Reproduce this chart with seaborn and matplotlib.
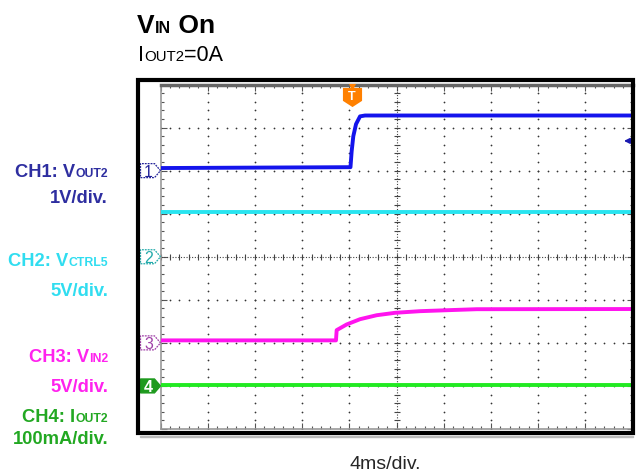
import numpy as np
import pandas as pd
import seaborn as sns
import matplotlib.pyplot as plt
from matplotlib.patches import Polygon, Rectangle
from matplotlib.ticker import MultipleLocator

# scope traces, time in ms, values in channel units (V, V, V, mA)
ch1_t = [-20, -3.90, -3.80, -3.66, -3.43, -3.09, -2.67, 20]
ch1_v = [0.06, 0.08, 0.45, 0.80, 1.08, 1.26, 1.28, 1.28]
ch2_t = [-20, 20]
ch2_v = [5.17, 5.17]
ch3_t = [-20, -5.13, -5.07, -4.22, -3.09, -1.68, -0.13, 1.99, 4.25, 6.80, 20]
ch3_v = [0.29, 0.29, 1.48, 2.14, 2.75, 3.21, 3.49, 3.68, 3.79, 3.91, 3.93]
ch4_t = [-20, 20]
ch4_v = [2, 2]

channels = ['CH1', 'CH2', 'CH3', 'CH4']
volts_per_div = [1, 5, 5, 100]
offset_div = [2, 0, -2, -3]
ms_per_div = 4
trig_t = -3.77
trig_level = 0.69  # CH1 trigger level (V)

trace_colors = ['#1414EC', '#28E4F0', '#FF14EE', '#22EA22']
label_colors = ['#2E2EA0', '#30DDF0', '#FF22EE', '#22A822']
marker_colors = ['#23239A', '#22AAAA', '#A040A8', '#1E9A1E']

sns.set_style('white')
plt.rcParams['font.family'] = ['Liberation Sans', 'DejaVu Sans']

W, H = 636, 477
fig = plt.figure(figsize=(W / 100, H / 100), dpi=100)

# grid area in pixels
gl, gr, gt, gb = 160.5, 632.5, 85.5, 430.0
ax = fig.add_axes([gl / W, 1 - gb / H, (gr - gl) / W, (gb - gt) / H])

rows = []
for name, ts, vs, sc, off in zip(channels, [ch1_t, ch2_t, ch3_t, ch4_t],
                                 [ch1_v, ch2_v, ch3_v, ch4_v], volts_per_div, offset_div):
    for t, v in zip(ts, vs):
        rows.append({'ch': name, 't': t / ms_per_div, 'y': v / sc + off})
df = pd.DataFrame(rows)

sns.lineplot(data=df, x='t', y='y', hue='ch', palette=trace_colors, sort=False,
             estimator=None, legend=False, lw=2.8, ax=ax, zorder=5)

ax.set_xlim(-5, 5)
ax.set_ylim(-4, 4)
ax.set_xlabel('')
ax.set_ylabel('')

# graticule dots
minor = np.arange(-5, 5.01, 0.2)
minor_y = np.arange(-4, 4.01, 0.2)
for gx in [-4, -3, -2, -1, 1, 2, 3, 4]:
    ax.scatter(np.full(len(minor_y), gx), minor_y, s=1.6, color='#333333', lw=0, zorder=2)
for gy in [-3, -2, -1, 1, 2, 3]:
    ax.scatter(minor, np.full(len(minor), gy), s=1.6, color='#333333', lw=0, zorder=2)
# center cross
ax.axvline(0, color='#444444', lw=0.8, ls=(0, (1, 1.5)), zorder=2)
ax.axhline(0, color='#444444', lw=0.8, ls=(0, (1, 1.5)), zorder=2)
ax.scatter(np.zeros(len(minor_y)), minor_y, marker='_', s=14, color='#444444', lw=0.8, zorder=2)
ax.scatter(minor, np.zeros(len(minor)), marker='|', s=14, color='#444444', lw=0.8, zorder=2)

# edge rulers
ax.xaxis.set_major_locator(MultipleLocator(1))
ax.xaxis.set_minor_locator(MultipleLocator(0.2))
ax.yaxis.set_major_locator(MultipleLocator(1))
ax.yaxis.set_minor_locator(MultipleLocator(0.2))
ax.tick_params(which='both', direction='in', top=True, bottom=True, left=True, right=True,
               labelbottom=False, labelleft=False, color='#555555')
ax.tick_params(which='major', length=4, width=0.8)
ax.tick_params(which='minor', length=2.5, width=0.8)
for side in ['left', 'right', 'bottom']:
    ax.spines[side].set_color('#999999')
    ax.spines[side].set_linewidth(1.2)
ax.spines['top'].set_color('#666666')
ax.spines['top'].set_linewidth(2.5)

# channel markers on the left edge
mh = 7 / 43.06
for i, (off, col) in enumerate(zip(offset_div, marker_colors)):
    x0, x1, xt = -5 - 20 / 47.2, -5 - 6 / 47.2, -5
    verts = [(x0, off - mh), (x1, off - mh), (xt, off), (x1, off + mh), (x0, off + mh)]
    filled = i == 3
    ax.add_patch(Polygon(verts, closed=True, clip_on=False, zorder=6,
                         facecolor=col if filled else 'white', edgecolor=col,
                         lw=0.9, ls='-' if filled else (0, (1.5, 0.8))))
    ax.text((x0 + x1) / 2 + 0.02, off - 0.01, str(i + 1), ha='center', va='center',
            fontsize=11.5, color='white' if filled else col,
            weight='bold' if filled else 'normal', clip_on=False, zorder=7)

# trigger position marker
tx = trig_t / ms_per_div
ax.scatter([tx], [4 - 2.5 / 43.06], marker='v', s=26, color='#FF8000', lw=0, clip_on=False, zorder=7)
shield = [(-1, 1), (1, 1), (1, -0.35), (0, -1), (-1, -0.35)]
ax.scatter([tx], [4 - 12.5 / 43.06], marker=shield, s=190, color='#FF8000', lw=0, clip_on=False, zorder=7)
ax.text(tx, 4 - 11.5 / 43.06, 'T', ha='center', va='center', fontsize=9, color='white',
        weight='bold', zorder=8)

# trigger level arrow on the right
ax.annotate('', xy=(4.76, trig_level / volts_per_div[0] + offset_div[0]),
            xytext=(5.0, trig_level / volts_per_div[0] + offset_div[0]),
            arrowprops=dict(arrowstyle='-|>', color='#1A1AB0', lw=1.2, mutation_scale=8),
            annotation_clip=False, zorder=8)

# outer black frame
fig.patches.append(Rectangle((138 / W, 1 - 434 / H), (633 - 138) / W, (434 - 80.5) / H,
                             transform=fig.transFigure, fill=False, edgecolor='black',
                             lw=3.0, zorder=10))
fig.patches.append(Rectangle((140 / W, 1 - 437.5 / H), (633 - 140) / W, 1 / H,
                             transform=fig.transFigure, color='#BBBBBB', zorder=9))

renderer = fig.canvas.get_renderer()


def rich(pieces, x, y, ha='left', color='black', weight='normal'):
    objs = [fig.text(0, 0, s, fontsize=size, color=color, weight=weight,
                     va='baseline', ha='left') for s, size in pieces]
    widths = [o.get_window_extent(renderer).width for o in objs]
    cx = x - sum(widths) if ha == 'right' else x
    for o, w in zip(objs, widths):
        o.set_position((cx / W, 1 - y / H))
        cx += w


# titles
rich([('V', 19), ('IN', 11.5), (' On', 19)], 137, 33.5, weight='bold')
rich([('I', 15.5), ('OUT2', 10.8), ('=0A', 15.5)], 138, 61)

# channel labels
lab_main, lab_sub = 13.2, 8.8
rich([('CH1: V', lab_main), ('OUT2', lab_sub)], 108, 176.7, ha='right', color=label_colors[0], weight='bold')
rich([('1V/div.', lab_main)], 108, 203.3, ha='right', color=label_colors[0], weight='bold')
rich([('CH2: V', lab_main), ('CTRL5', lab_sub)], 108, 266, ha='right', color=label_colors[1], weight='bold')
rich([('5V/div.', lab_main)], 108, 295.7, ha='right', color=label_colors[1], weight='bold')
rich([('CH3: V', lab_main), ('IN2', lab_sub)], 108, 361.7, ha='right', color=label_colors[2], weight='bold')
rich([('5V/div.', lab_main)], 108, 392.3, ha='right', color=label_colors[2], weight='bold')
rich([('CH4: I', lab_main), ('OUT2', lab_sub)], 108, 422.3, ha='right', color=label_colors[3], weight='bold')
rich([('100mA/div.', lab_main)], 108, 444, ha='right', color=label_colors[3], weight='bold')

fig.text(385 / W, 1 - 469 / H, '4ms/div.', ha='center', va='baseline', fontsize=14)

fig.savefig('out.png', dpi=100)
